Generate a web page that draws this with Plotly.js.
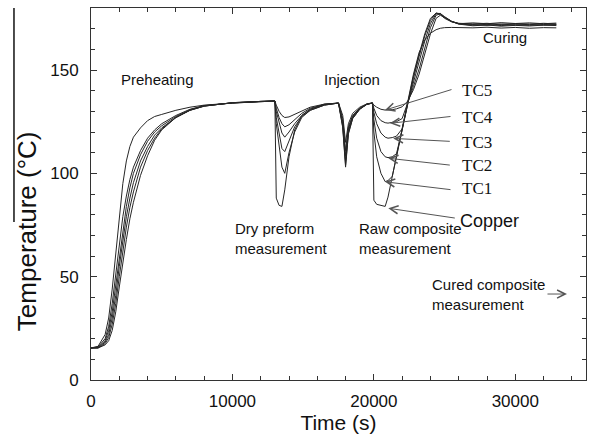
<!DOCTYPE html>
<html>
<head>
<meta charset="utf-8">
<script src="https://cdn.plot.ly/plotly-3.0.1.min.js"></script>
<style>html,body{margin:0;padding:0;background:#fff}#chart{width:590px;height:437px}</style>
</head>
<body>
<div id="chart"></div>
<script>
// Time (s)
const time = [0,500,1000,1250,1500,1750,2000,2250,2500,2750,3000,3500,4000,4500,5000,6000,7000,8000,10000,12000,13000,
  13100,13300,13500,13700,14000,14400,14900,15500,16500,17500,
  17800,18000,18200,18500,19000,19500,19900,
  20000,20200,20500,20800,21000,21300,21600,22000,22400,
  22800,23200,23600,24000,24400,24700,25000,25500,26000,
  27000,28000,29000,30000,31000,32000,32900];

const copper = [15.5,16.3,22,30,44,62,80,95,106,113,117.5,122,125.5,127.5,128.5,130.5,132,133,134,134.7,135,
  88,84.5,84,92,108,121,128,131,133.5,134,
  122,103,119,126.5,131,133.5,134.2,
  87,85,84.5,84,88.5,98.3,108,121,134,
  148,158.5,164.5,167.8,169.5,170.2,170.5,170.6,170.5,
  170.4,170.7,170.3,170.6,170.2,170.5,170.4];

const tc1 = [15.5,16,20,26,37,51,66,79,89,97,103,111,117,121,124,128,131,132.8,134,134.7,135,
  124,112,103,100,110,120,127,130.5,133,134,
  122.5,104,119.5,126.5,131,133.3,134,
  120,108,100,96,96.5,98.5,108,121,134,
  147,157.5,167.5,175,177.5,176.8,175,173.3,172.6,
  172.3,172.6,172.1,172.5,172.2,172.6,172.3];

const tc2 = [15.5,15.8,19,24,33,46,60,73,84,93,100,109,115.5,120,123,127.5,130.8,132.7,134.1,134.8,135,
  127,119,112,110.5,116,122.5,127.5,130.5,133,134,
  123.5,106,120.5,127,131.2,133.4,134,
  126,117,110.5,108,107.6,108,109.5,121,134,
  146,156.5,166.5,174,177.6,177.2,175.4,173.5,172.5,
  172.0,171.6,172.2,171.8,172.1,171.7,172.0];

const tc3 = [15.5,15.6,18.3,22,30,41,55,68,79,88,95.5,106,113,118.5,122,127,130.6,132.6,134.1,134.8,135,
  130,124,119.5,117.5,120,124,128,131,133.2,134,
  125,108.5,121.5,127.5,131.3,133.4,134,
  129.5,124,119.5,117.5,117,117.3,118,121.5,134,
  144,153.5,164,172.5,177.2,177.4,175.6,173.4,172.3,
  171.7,172.1,171.5,171.9,171.6,172.0,171.8];

const tc4 = [15.5,15.5,17.6,20.5,27,37,50,63,74,83.5,91,103,111,117,121.5,127,130.5,132.5,134.2,134.8,135,
  131.5,127,124,122.5,123.5,126,129,131.5,133.3,134,
  126.5,111,122.5,128,131.5,133.5,134,
  131.5,128,125.5,124.5,124.3,124.5,125,126.5,134,
  142,150.5,161,170.5,176.5,177.2,175.8,173.6,172.4,
  172.8,172.4,172.9,172.5,172.8,172.4,172.7];

const tc5 = [15.5,15.5,17,19,24,33,45,57,68,78,86,99,108.5,116,121,127,130.5,132.5,134.2,134.8,135,
  133,130,128,127,127.3,128.5,130,132,133.5,134,
  128,115,124,129,132,133.6,134,
  133,132,131,130.6,130.6,130.8,131.2,132.2,135,
  140.5,148,158,167.5,175,176.5,175.5,173.5,172.2,
  171.4,171.8,171.2,171.6,171.3,171.7,171.5];

const seriesNames = ['Copper','TC1','TC2','TC3','TC4','TC5'];
const seriesValues = [copper, tc1, tc2, tc3, tc4, tc5];

const xTickVals = [0,10000,20000,30000];
const xTickText = ['0','10000','20000','30000'];
const yTickVals = [0,50,100,150];
const yTickText = ['0','50','100','150'];

const traces = seriesNames.map((n,i)=>({
  type:'scatter', mode:'lines', name:n, x:time, y:seriesValues[i],
  line:{color:'#262626', width:1}, hoverinfo:'skip'
}));

const sans = 'Liberation Sans, Arial, sans-serif';
const serif = 'Liberation Serif, Times New Roman, serif';
const txt = (text,x,y,opts)=>Object.assign({text:text,x:x,y:y,xref:'x',yref:'y',showarrow:false,
  font:{family:sans,size:15,color:'#111'}},opts||{});
const arr = (x,y,ax,ay)=>({text:'',x:x,y:y,xref:'x',yref:'y',ax:ax,ay:ay,showarrow:true,
  arrowhead:5,arrowsize:1.6,arrowwidth:1,arrowcolor:'#555'});

const annotations = [
  txt('Preheating',4737,145.2),
  txt('Injection',18455,145.2),
  txt('Curing',29273,165.5),
  txt('Dry preform<br>measurement',10040,68.5,{xanchor:'left',align:'left'}),
  txt('Raw composite<br>measurement',18808,68.5,{xanchor:'left',align:'left'}),
  txt('Cured composite<br>measurement',23970,41.4,{xanchor:'left',align:'left'}),
  arr(33656,41.6,-21,0),
  txt('TC5',26091,140.3,{xanchor:'left',font:{family:serif,size:17,color:'#111'}}),
  txt('TC4',26091,126.8,{xanchor:'left',font:{family:serif,size:17,color:'#111'}}),
  txt('TC3',26091,114.7,{xanchor:'left',font:{family:serif,size:17,color:'#111'}}),
  txt('TC2',26091,104.0,{xanchor:'left',font:{family:serif,size:17,color:'#111'}}),
  txt('TC1',26091,92.7,{xanchor:'left',font:{family:serif,size:17,color:'#111'}}),
  txt('Copper',25950,76.9,{xanchor:'left',font:{family:sans,size:18,color:'#111'}}),
  arr(20788,130.6,68,-21),
  arr(21141,124.2,62,-7),
  arr(21374,116.9,58,3),
  arr(21021,107.3,63,7),
  arr(20788,95.9,67,8),
  arr(21021,83.1,68,10),
  {text:'Temperature (°C)',xref:'paper',yref:'paper',x:-0.129,y:0.4005,textangle:-90,
   showarrow:false,xanchor:'center',yanchor:'middle',font:{family:sans,size:26,color:'#111'}}
];

const axisCommon = {
  showgrid:false, zeroline:false, showline:true, linecolor:'#333', linewidth:1,
  mirror:'ticks', ticks:'inside', ticklen:6, tickwidth:1, tickcolor:'#333',
  tickfont:{family:sans,size:17,color:'#111'}
};

const layout = {
  width:590, height:437,
  margin:{l:91,r:4,t:8,b:57},
  paper_bgcolor:'#fff', plot_bgcolor:'#fff',
  showlegend:false,
  xaxis:Object.assign({}, axisCommon, {
    range:[0,35000], tickmode:'array', tickvals:xTickVals, ticktext:xTickText,
    ticklabelstandoff:6,
    minor:{dtick:2000, tick0:0, ticks:'inside', ticklen:4, tickcolor:'#333'},
    title:{text:'Time (s)', font:{family:sans,size:21,color:'#111'}, standoff:4}
  }),
  yaxis:Object.assign({}, axisCommon, {
    range:[0,180], tickmode:'array', tickvals:yTickVals, ticktext:yTickText,
    ticklabelstandoff:8,
    minor:{dtick:10, tick0:0, ticks:'inside', ticklen:4, tickcolor:'#333'}
  }),
  annotations:annotations,
  shapes:[{type:'line',xref:'paper',yref:'paper',x0:-0.1556,x1:-0.1556,y0:0.4247,y1:1.0,
    line:{color:'#111',width:1.5}}]
};

Plotly.newPlot('chart', traces, layout, {staticPlot:true, displayModeBar:false});
</script>
</body>
</html>
